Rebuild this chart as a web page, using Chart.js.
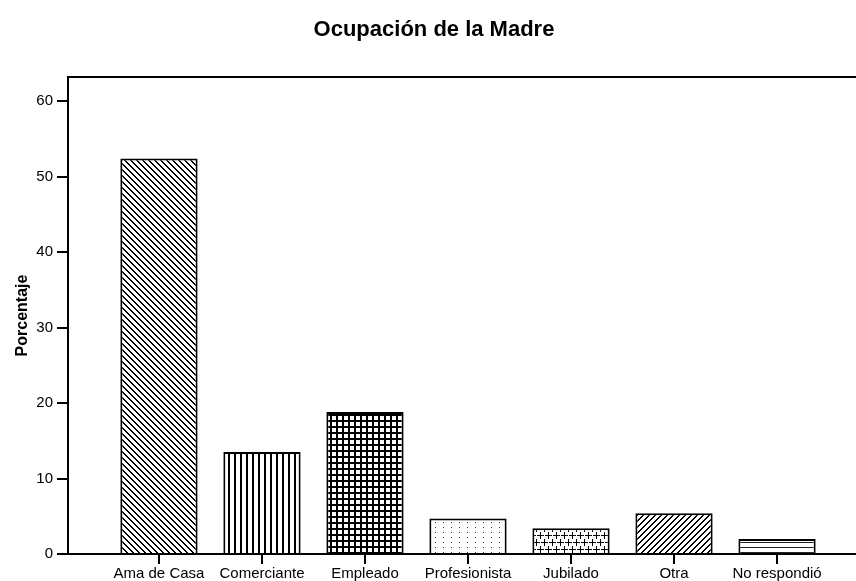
<!DOCTYPE html>
<html>
<head>
<meta charset="utf-8">
<script src="https://cdn.jsdelivr.net/npm/chart.js@4.4.1/dist/chart.umd.min.js"></script>
<style>
  html, body { margin: 0; padding: 0; background: #fff; overflow: hidden; }
  #chart { display: block; }
</style>
</head>
<body>
<canvas id="chart" width="880" height="581" style="width:880px;height:581px"></canvas>
<script>
const categories = ['Ama de Casa', 'Comerciante', 'Empleado', 'Profesionista', 'Jubilado', 'Otra', 'No respondió'];
const porcentajes = [52.4, 13.5, 18.8, 4.7, 3.4, 5.4, 2.0];
const yTicks = [0, 10, 20, 30, 40, 50, 60];

const canvas = document.getElementById('chart');
const ctx = canvas.getContext('2d');

// builds a small repeating tile used as bar fill
function makePattern(w, h, draw) {
  const c = document.createElement('canvas');
  c.width = w;
  c.height = h;
  const g = c.getContext('2d');
  g.fillStyle = '#fff';
  g.fillRect(0, 0, w, h);
  g.fillStyle = '#000';
  draw(g, w, h);
  return ctx.createPattern(c, 'repeat');
}

const patterns = [
  // \\\ diagonals
  makePattern(6, 6, (g, w) => {
    for (let i = 0; i < w; i++) {
      g.fillRect(i, i, 1, 1);
      g.fillRect((i + 1) % w, i, 1, 1);
    }
  }),
  // vertical lines
  makePattern(6, 1, (g) => {
    g.fillRect(0, 0, 2, 1);
  }),
  // grid
  makePattern(6, 6, (g, w, h) => {
    g.fillRect(0, 0, 2, h);
    g.fillRect(0, 0, w, 2);
  }),
  // dots
  makePattern(8, 5, (g) => {
    g.fillStyle = '#333';
    g.fillRect(3, 2, 1, 1);
  }),
  // plus signs, staggered
  makePattern(8, 14, (g) => {
    g.fillRect(1, 3, 7, 1);
    g.fillRect(4, 0, 1, 7);
    g.fillRect(0, 10, 4, 1);
    g.fillRect(5, 10, 3, 1);
    g.fillRect(0, 7, 1, 7);
  }),
  // /// diagonals
  makePattern(6, 6, (g, w) => {
    for (let i = 0; i < w; i++) {
      g.fillRect(w - 1 - i, i, 1, 1);
      g.fillRect((w - i) % w, i, 1, 1);
    }
  }),
  // horizontal lines
  makePattern(1, 5, (g) => {
    g.fillStyle = '#222';
    g.fillRect(0, 2, 1, 1);
  })
];

const framePlugin = {
  id: 'frame',
  afterDraw(chart) {
    const a = chart.chartArea;
    const c = chart.ctx;
    c.save();
    c.strokeStyle = '#000';
    c.lineWidth = 2;
    c.beginPath();
    c.moveTo(a.left - 1, a.top);
    c.lineTo(a.right, a.top);
    c.lineTo(a.right, a.bottom);
    c.stroke();
    c.restore();
  }
};

const font = "'Liberation Sans', Arial, Helvetica, sans-serif";

new Chart(canvas, {
  type: 'bar',
  data: {
    datasets: [{
      data: porcentajes.map((v, i) => ({ x: i, y: v })),
      backgroundColor: patterns,
      borderColor: '#000',
      borderWidth: 2,
      barPercentage: 0.75,
      categoryPercentage: 1
    }]
  },
  options: {
    responsive: false,
    devicePixelRatio: 1,
    animation: false,
    layout: { padding: { left: 0, right: 12, top: 0, bottom: 0 } },
    plugins: {
      legend: { display: false },
      tooltip: { enabled: false },
      title: {
        display: true,
        text: 'Ocupación de la Madre',
        color: '#000',
        font: { family: font, size: 22, weight: 'bold' },
        padding: { top: 17, bottom: 33.6 }
      }
    },
    scales: {
      x: {
        type: 'linear',
        offset: false,
        min: -0.883,
        max: categories.length - 1 + 0.883,
        afterFit(scale) { scale.height = 27; },
        afterBuildTicks(scale) {
          scale.ticks = categories.map((c, i) => ({ value: i }));
        },
        border: { display: true, color: '#000', width: 2 },
        grid: { display: true, offset: false, drawOnChartArea: false, drawTicks: true, tickLength: 10, color: '#000', lineWidth: 2 },
        ticks: {
          color: '#000',
          font: { family: font, size: 15 },
          padding: 1,
          maxRotation: 0,
          autoSkip: false,
          callback: (v) => categories[v]
        }
      },
      y: {
        min: 0,
        max: 63.2,
        afterFit(scale) { scale.width = 68; },
        afterBuildTicks(scale) {
          scale.ticks = yTicks.map(v => ({ value: v }));
        },
        border: { display: true, color: '#000', width: 2 },
        grid: { display: true, drawOnChartArea: false, drawTicks: true, tickLength: 11, color: '#000', lineWidth: 2 },
        ticks: {
          color: '#000',
          font: { family: font, size: 15 },
          padding: 4
        },
        title: {
          display: true,
          text: 'Porcentaje',
          color: '#000',
          font: { family: font, size: 16, weight: 'bold' },
          padding: { top: 13, bottom: 0 }
        }
      }
    }
  },
  plugins: [framePlugin]
});
</script>
</body>
</html>
